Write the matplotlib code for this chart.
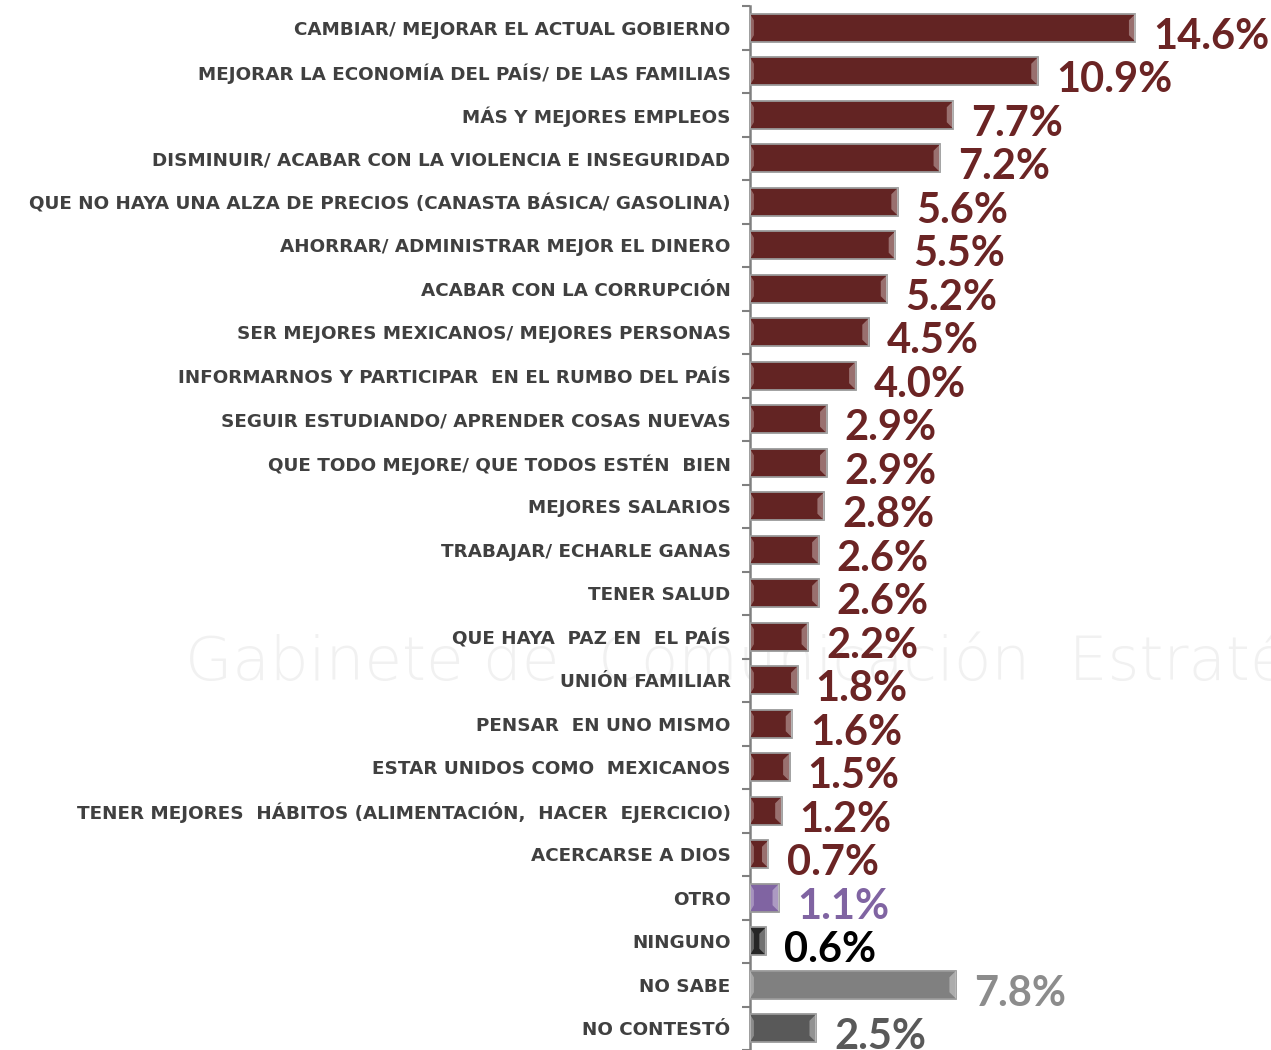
import matplotlib
matplotlib.use("Agg")
import matplotlib.pyplot as plt
from matplotlib.patches import Polygon
import numpy as np

categories = [
    "CAMBIAR/ MEJORAR EL ACTUAL GOBIERNO",
    "MEJORAR LA ECONOMÍA DEL PAÍS/ DE LAS FAMILIAS",
    "MÁS Y MEJORES EMPLEOS",
    "DISMINUIR/ ACABAR CON LA VIOLENCIA E INSEGURIDAD",
    "QUE NO HAYA UNA ALZA DE PRECIOS (CANASTA BÁSICA/ GASOLINA)",
    "AHORRAR/ ADMINISTRAR MEJOR EL DINERO",
    "ACABAR CON LA CORRUPCIÓN",
    "SER MEJORES MEXICANOS/ MEJORES PERSONAS",
    "INFORMARNOS Y PARTICIPAR  EN EL RUMBO DEL PAÍS",
    "SEGUIR ESTUDIANDO/ APRENDER COSAS NUEVAS",
    "QUE TODO MEJORE/ QUE TODOS ESTÉN  BIEN",
    "MEJORES SALARIOS",
    "TRABAJAR/ ECHARLE GANAS",
    "TENER SALUD",
    "QUE HAYA  PAZ EN  EL PAÍS",
    "UNIÓN FAMILIAR",
    "PENSAR  EN UNO MISMO",
    "ESTAR UNIDOS COMO  MEXICANOS",
    "TENER MEJORES  HÁBITOS (ALIMENTACIÓN,  HACER  EJERCICIO)",
    "ACERCARSE A DIOS",
    "OTRO",
    "NINGUNO",
    "NO SABE",
    "NO CONTESTÓ",
]
values = [14.6, 10.9, 7.7, 7.2, 5.6, 5.5, 5.2, 4.5, 4.0, 2.9, 2.9, 2.8, 2.6, 2.6,
          2.2, 1.8, 1.6, 1.5, 1.2, 0.7, 1.1, 0.6, 7.8, 2.5]
value_labels = [f"{v:.1f}%" for v in values]

maroon = "#632423"
bar_colors = [maroon] * 20 + ["#8064A2", "#262626", "#808080", "#595959"]
label_colors = ["#6B2424"] * 20 + ["#8064A2", "#000000", "#8C8C8C", "#595959"]

W, H = 1271, 1050
fig = plt.figure(figsize=(W / 100, H / 100), dpi=100)
fig.patch.set_facecolor("white")

# faint watermark (background)
fig.text(185 / W, 1 - 662 / H, "Gabinete de  Comunicación  Estratégica", fontsize=44,
         color="#f1f1f1", ha="left", va="center", family="DejaVu Sans",
         fontweight="light", zorder=-5)

ax_left = 750 / W
ax_top = 1 - 6 / H
ax = fig.add_axes([ax_left, 0, 1 - ax_left, ax_top])
ax.set_facecolor("none")
ax.set_zorder(2)

n = len(categories)
y = np.arange(n)
px_per_unit = 26.4
xmax = (W - 750) / px_per_unit
ax.set_xlim(0, xmax)
slot_px = 43.74
ax.set_ylim(n - 1 + (H - 1034) / slot_px, -0.5)

bh = 0.64
bars = ax.barh(y, values, height=bh, color=bar_colors, edgecolor="#9a9a9a",
               linewidth=1.3, zorder=3)

# bevel highlights at bar ends
wpx = 6.5
wd = wpx / px_per_unit
dd = wpx / slot_px
for yi, v, c in zip(y, values, bar_colors):
    w = min(wd, v / 2.2)
    d = min(dd, bh / 2.5)
    top, bot = yi - bh / 2, yi + bh / 2
    right = Polygon([(v, top), (v - w, top + d), (v - w, bot - d), (v, bot)],
                    closed=True, facecolor="white", alpha=0.35, edgecolor="none", zorder=4)
    left = Polygon([(0, top), (w * 0.6, top + d), (w * 0.6, bot - d), (0, bot)],
                   closed=True, facecolor="white", alpha=0.3, edgecolor="none", zorder=4)
    ax.add_patch(right)
    ax.add_patch(left)

for yi, v, lab, c in zip(y, values, value_labels, label_colors):
    ax.annotate(lab, (v, yi), xytext=(13, -6.5), textcoords="offset points",
                ha="left", va="center", fontsize=30, fontweight="bold",
                color=c, family="Lato", zorder=5, annotation_clip=False)

ax.set_yticks(y)
ax.set_yticklabels(categories, fontsize=13.2, fontweight="bold", color="#404040",
                   family="DejaVu Sans")
ax.tick_params(axis="y", which="major", length=0, pad=14)
ax.set_yticks(np.arange(-0.5, n, 1.0), minor=True)
ax.tick_params(axis="y", which="minor", length=6, width=1.5, color="#808080", direction="out")
ax.set_xticks([])
for s in ["top", "right", "bottom"]:
    ax.spines[s].set_visible(False)
ax.spines["left"].set_color("#808080")
ax.spines["left"].set_linewidth(1.8)

fig.savefig("out.png", dpi=100, facecolor="white")
